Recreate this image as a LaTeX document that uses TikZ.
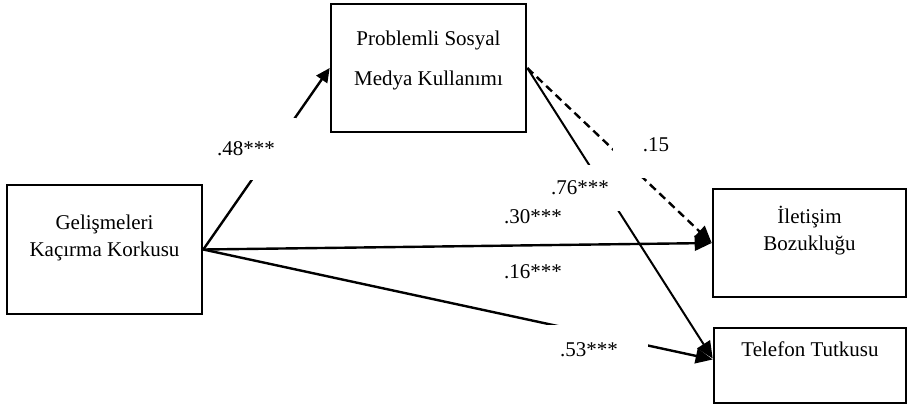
\documentclass[tikz,border=0pt]{standalone}
\usepackage{fontspec}
\setmainfont{Liberation Serif}
\usetikzlibrary{arrows.meta}
\begin{document}
\begin{tikzpicture}[x=1pt,y=-1pt]
\tikzstyle{box}=[draw,line width=2.6pt,inner sep=0pt]
\tikzstyle{txt}=[anchor=north,align=center,inner sep=0pt,font=\fontsize{21}{27}\selectfont]
\tikzstyle{lbl}=[fill=white,inner sep=1pt,font=\fontsize{21}{25}\selectfont]
\tikzstyle{arr}=[line width=2.4pt,-{Triangle[length=17pt,width=15pt]}]
\useasboundingbox (0,0) rectangle (908,405);
% boxes
\node[box,minimum width=195pt,minimum height=129pt] (fomo) at (104.5,249.5) {};
\node[box,minimum width=195pt,minimum height=128pt] (psmu) at (428.5,68) {};
\node[box,minimum width=193pt,minimum height=108pt] (comm) at (809.5,243) {};
\node[box,minimum width=192pt,minimum height=75pt] (phone) at (810,365.5) {};
\node[txt] (fomo-t) at ([yshift=-31pt]fomo.north) {Gelişmeleri\\Kaçırma Korkusu};
\node[txt] (psmu-t) at ([yshift=-28pt]psmu.north) {Problemli Sosyal\\[13pt]Medya Kullanımı};
\node[txt] (comm-t) at ([yshift=-18pt]comm.north) {İletişim\\Bozukluğu};
\node[txt] (phone-t) at ([yshift=-15pt]phone.north) {Telefon Tutkusu};
% paths
\draw[arr,-{Triangle[length=14pt,width=13pt]}] (fomo.east) -- (psmu.west);
\draw[arr] (fomo.east) -- (comm.west);
\draw[arr] (fomo.east) -- ([yshift=6pt]phone.west);
\draw[arr,line width=2pt] (psmu.east) -- ([yshift=7pt]phone.west);
\draw[arr,dash pattern=on 8pt off 5pt] (psmu.east) -- (comm.west);
% coefficients
\node[lbl,minimum width=100pt,minimum height=62pt] (l48) at (246,149) {.48***};
\node[lbl,minimum width=86pt,minimum height=66pt] (l15) at (656,145) {.15};
\node[lbl,minimum width=80pt,minimum height=46pt] (l76) at (580,188) {.76***};
\node[lbl] (l30) at (533,217) {.30***};
\node[lbl] (l16) at (533,272) {.16***};
\node[lbl,minimum width=118pt,minimum height=51pt] (l53) at (589,350) {.53***};
\end{tikzpicture}
\end{document}
